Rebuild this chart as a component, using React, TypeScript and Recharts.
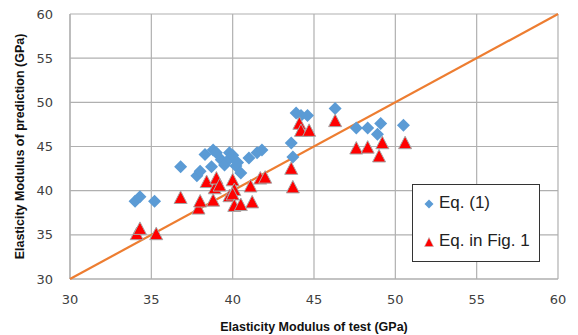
import React from "react";
import {
  ScatterChart,
  Scatter,
  XAxis,
  YAxis,
  CartesianGrid,
  Legend,
} from "recharts";

// Axis ticks (GPa)
const xTicks = [30, 35, 40, 45, 50, 55, 60];
const yTicks = [30, 35, 40, 45, 50, 55, 60];

// Eq. (1) predictions: [test, prediction]
const eq1: { x: number; y: number }[] = [
  { x: 34.0, y: 38.8 },
  { x: 34.3, y: 39.3 },
  { x: 35.2, y: 38.8 },
  { x: 36.8, y: 42.7 },
  { x: 37.8, y: 41.7 },
  { x: 38.0, y: 42.2 },
  { x: 38.3, y: 44.1 },
  { x: 38.7, y: 42.7 },
  { x: 38.8, y: 44.6 },
  { x: 39.0, y: 44.3 },
  { x: 39.3, y: 43.5 },
  { x: 39.5, y: 42.9 },
  { x: 39.8, y: 44.3 },
  { x: 39.8, y: 43.6 },
  { x: 40.0, y: 44.0 },
  { x: 40.2, y: 42.8 },
  { x: 40.3, y: 43.2 },
  { x: 40.5, y: 42.0 },
  { x: 41.0, y: 43.7 },
  { x: 41.5, y: 44.3 },
  { x: 41.8, y: 44.6 },
  { x: 43.6, y: 45.4 },
  { x: 43.7, y: 43.8 },
  { x: 43.9, y: 48.8 },
  { x: 44.2, y: 48.5 },
  { x: 44.6, y: 48.5 },
  { x: 46.3, y: 49.3 },
  { x: 47.6, y: 47.1 },
  { x: 48.3, y: 47.1 },
  { x: 48.9, y: 46.4 },
  { x: 49.1, y: 47.6 },
  { x: 50.5, y: 47.4 },
];

// Equation in Fig. 1 predictions
const eqFig1: { x: number; y: number }[] = [
  { x: 34.1, y: 35.1 },
  { x: 34.3, y: 35.7 },
  { x: 35.3, y: 35.1 },
  { x: 36.8, y: 39.2 },
  { x: 37.9, y: 38.0 },
  { x: 38.0, y: 38.8 },
  { x: 38.4, y: 41.0 },
  { x: 38.8, y: 38.9 },
  { x: 38.9, y: 40.3 },
  { x: 39.0, y: 41.4 },
  { x: 39.2, y: 40.6 },
  { x: 39.8, y: 39.4 },
  { x: 40.0, y: 41.2 },
  { x: 40.1, y: 40.1 },
  { x: 40.0, y: 39.6 },
  { x: 40.1, y: 38.3 },
  { x: 40.5, y: 38.4 },
  { x: 41.1, y: 40.5 },
  { x: 41.2, y: 38.7 },
  { x: 41.7, y: 41.4 },
  { x: 42.0, y: 41.5 },
  { x: 43.6, y: 42.5 },
  { x: 43.7, y: 40.4 },
  { x: 44.1, y: 47.6 },
  { x: 44.2, y: 46.8 },
  { x: 44.7, y: 46.8 },
  { x: 46.3, y: 47.9 },
  { x: 47.6, y: 44.8 },
  { x: 48.3, y: 44.9 },
  { x: 49.0, y: 43.9 },
  { x: 49.2, y: 45.4 },
  { x: 50.6, y: 45.4 },
];

// 1:1 line
const diagonal = [
  { x: 30, y: 30 },
  { x: 60, y: 60 },
];

const BLUE = "#5B9BD5";
const RED = "#FF0000";
const ORANGE = "#ED7D31";
const GRID = "#b0b0b0";

const Diamond = (props: any) => {
  const { cx, cy } = props;
  const r = 6.5;
  return (
    <polygon
      points={`${cx},${cy - r} ${cx + r},${cy} ${cx},${cy + r} ${cx - r},${cy}`}
      fill={BLUE}
    />
  );
};

const Triangle = (props: any) => {
  const { cx, cy } = props;
  const w = 6.5;
  const h = 11.5;
  return (
    <polygon
      points={`${cx},${cy - h / 2 - 1} ${cx + w},${cy + h / 2} ${cx - w},${cy + h / 2}`}
      fill={RED}
      stroke="#a6a6a6"
      strokeWidth={1}
    />
  );
};

const NoMark = () => <g />;

const LegendBox = () => (
  <div
    style={{
      width: 128,
      height: 78,
      boxSizing: "border-box",
      border: "1.5px solid #333",
      background: "#fff",
      position: "relative",
      fontFamily: "'Liberation Sans', sans-serif",
      fontSize: 17,
      color: "#222",
    }}
  >
    <svg width={12} height={12} style={{ position: "absolute", left: 10, top: 13 }}>
      <polygon points="6,1.5 10.5,6 6,10.5 1.5,6" fill={BLUE} />
    </svg>
    <span style={{ position: "absolute", left: 26, top: 8, lineHeight: "20px" }}>Eq. (1)</span>
    <svg width={12} height={12} style={{ position: "absolute", left: 10, top: 51 }}>
      <polygon points="6,1.5 10.5,10.5 1.5,10.5" fill={RED} stroke="#bbb" strokeWidth={0.6} />
    </svg>
    <span style={{ position: "absolute", left: 26, top: 46, lineHeight: "20px" }}>Eq. in Fig. 1</span>
  </div>
);

const tickStyle = { fontFamily: "'DejaVu Sans', sans-serif", fontSize: 13, fill: "#404040" };
const titleStyle = {
  fontFamily: "'Liberation Sans', sans-serif",
  fontSize: 12.5,
  fontWeight: 700,
  fill: "#111",
};

export default function App() {
  return (
    <ScatterChart
      width={570}
      height={327}
      margin={{ top: 6, right: 20, left: 0, bottom: 0 }}
    >
      <CartesianGrid stroke={GRID} strokeWidth={1.2} />
      <XAxis
        type="number"
        dataKey="x"
        domain={[30, 60]}
        ticks={xTicks}
        interval={0}
        height={56}
        tickLine={false}
        tickSize={6}
        tickMargin={10}
        axisLine={{ stroke: GRID, strokeWidth: 1.2 }}
        tick={tickStyle}
        label={{
          value: "Elasticity Modulus of test (GPa)",
          position: "insideBottom",
          offset: 4,
          style: titleStyle,
        }}
      />
      <YAxis
        type="number"
        dataKey="y"
        domain={[30, 60]}
        ticks={yTicks}
        interval={0}
        width={62}
        tickLine={false}
        tickSize={6}
        tickMargin={11}
        axisLine={{ stroke: GRID, strokeWidth: 1.2 }}
        tick={tickStyle}
        label={{
          value: "Elasticity Modulus of prediction  (GPa)",
          angle: -90,
          position: "insideLeft",
          offset: 12,
          style: { ...titleStyle, textAnchor: "middle" },
        }}
      />
      <Scatter
        name="1:1"
        data={diagonal}
        line={{ stroke: ORANGE, strokeWidth: 2.2 }}
        shape={NoMark}
        legendType="none"
        isAnimationActive={false}
      />
      <Scatter
        name="Eq. (1)"
        data={eq1}
        shape={Diamond}
        isAnimationActive={false}
      />
      <Scatter
        name="Eq. in Fig. 1"
        data={eqFig1}
        shape={Triangle}
        isAnimationActive={false}
      />
      <Legend
        layout="vertical"
        align="center"
        verticalAlign="middle"
        content={() => <LegendBox />}
        wrapperStyle={{ left: 404, top: 176, width: 128, height: 78 }}
      />
    </ScatterChart>
  );
}
